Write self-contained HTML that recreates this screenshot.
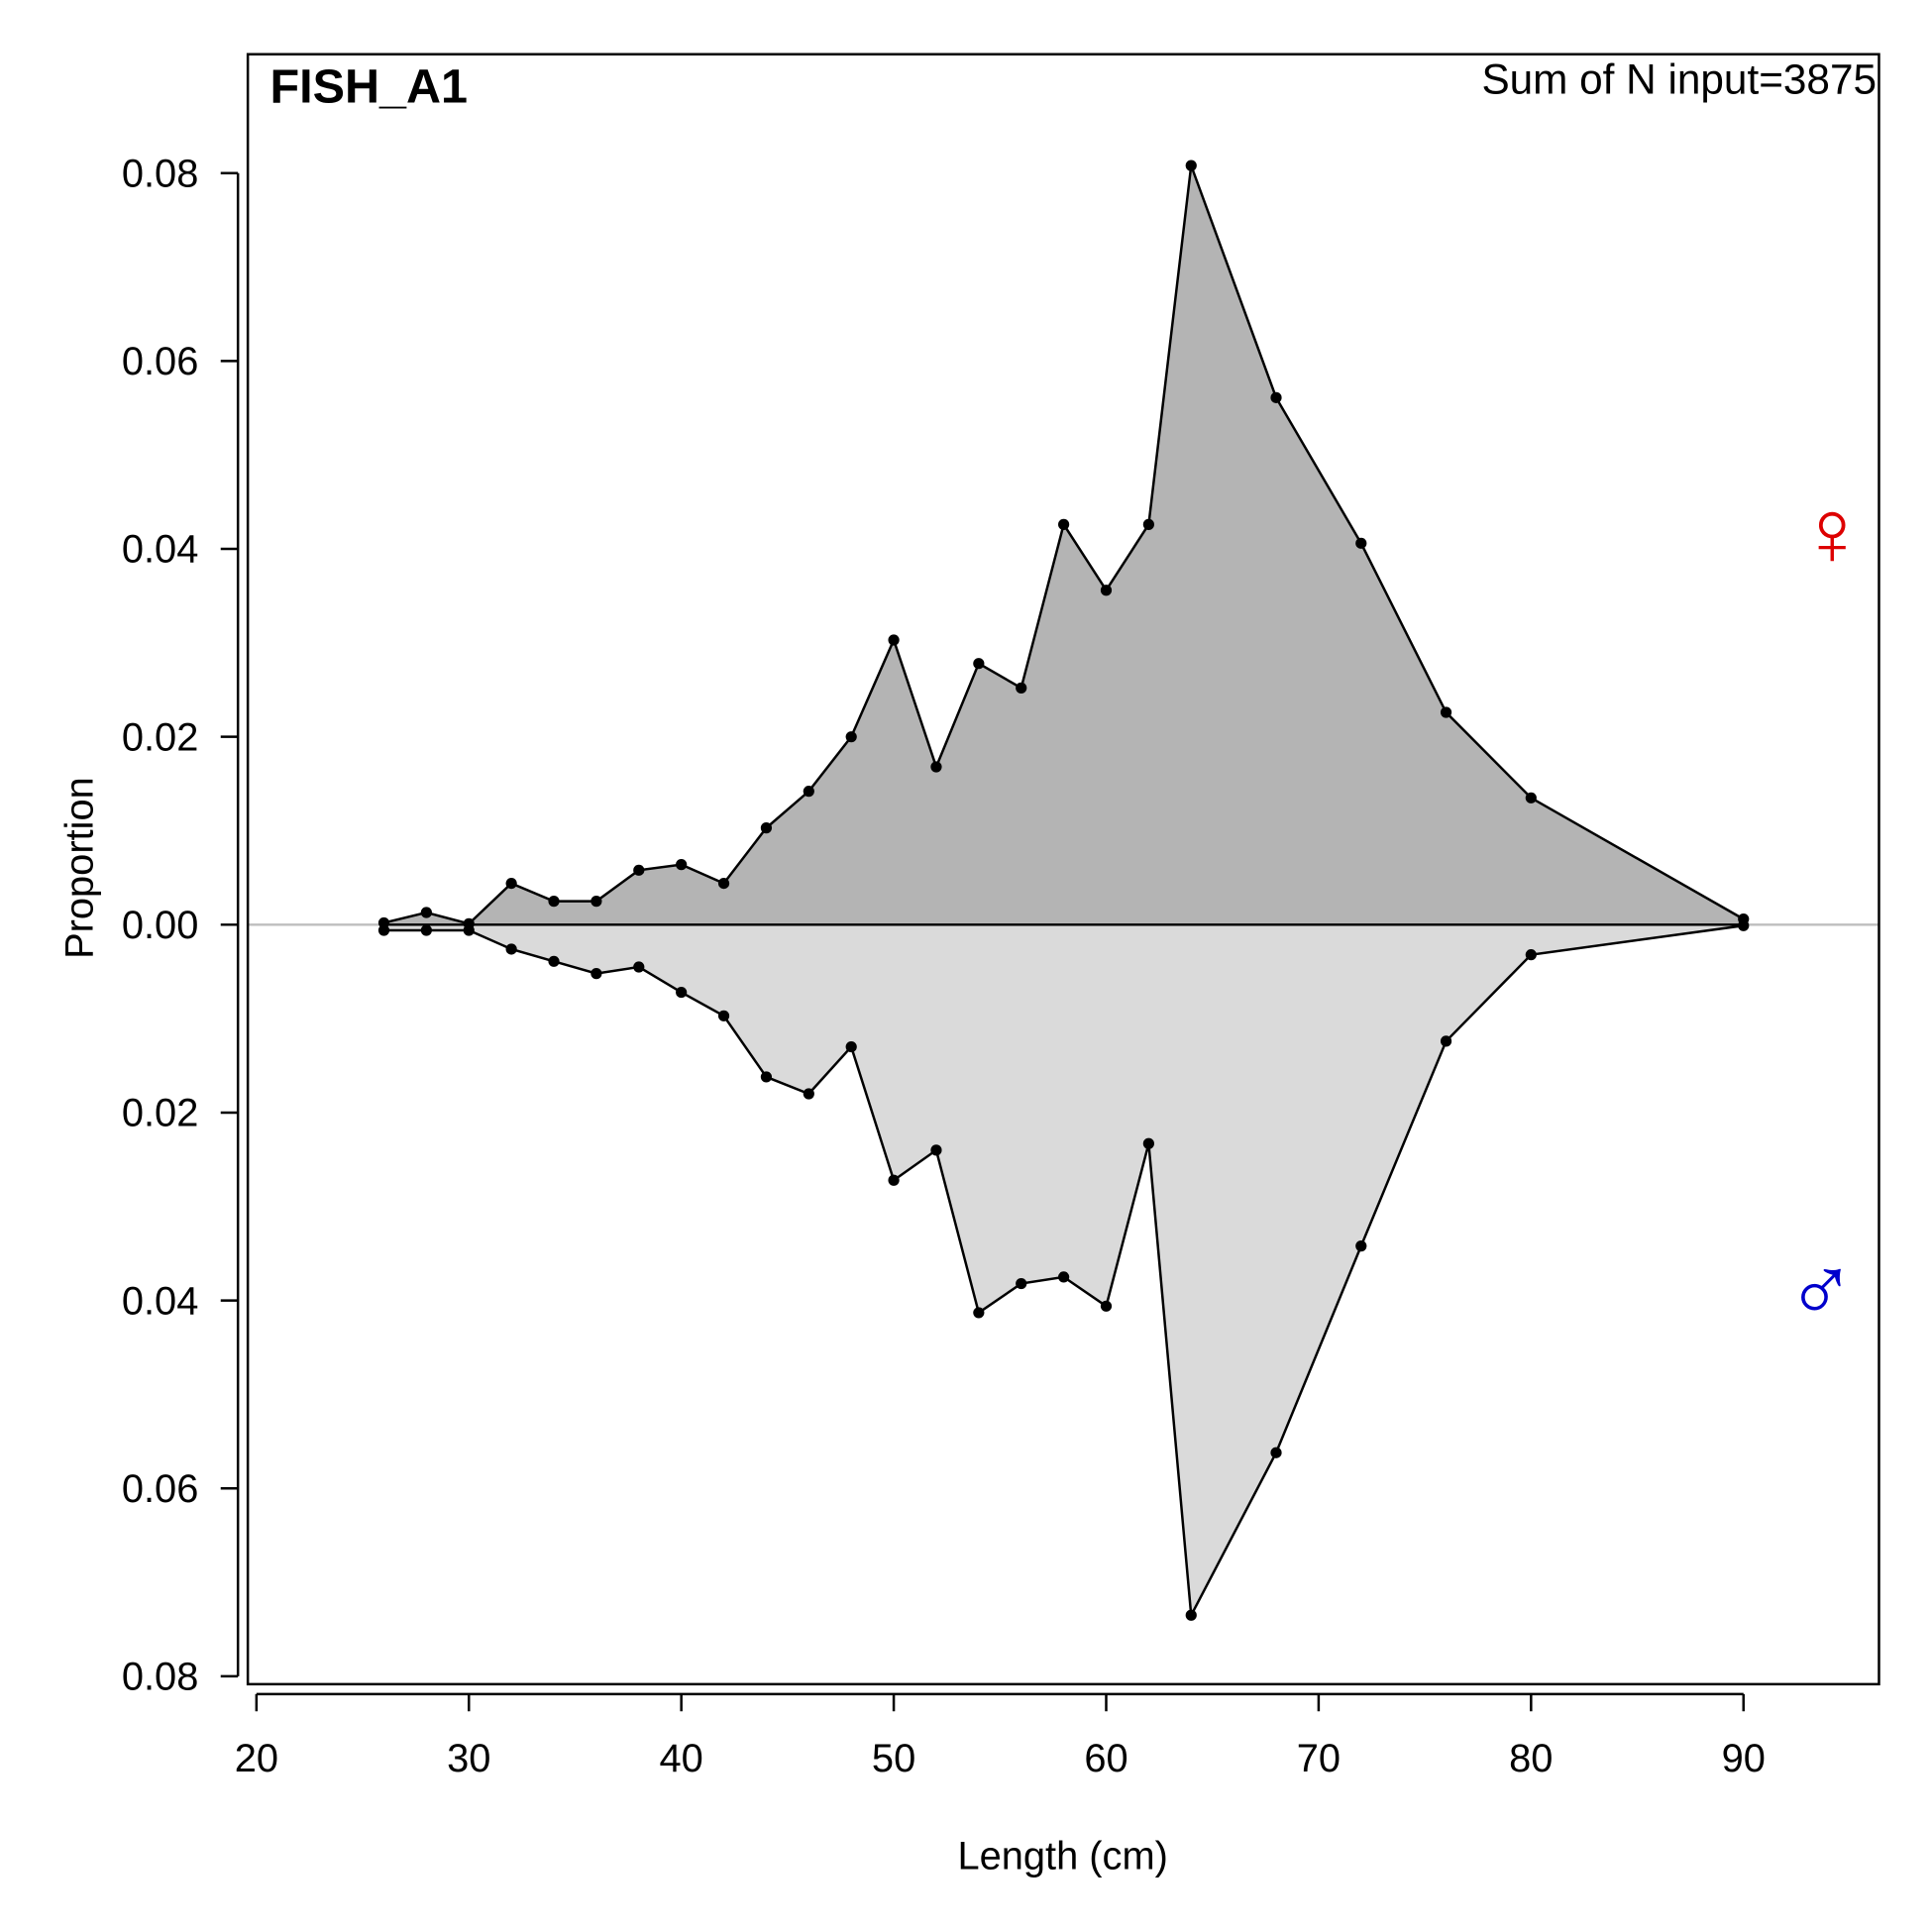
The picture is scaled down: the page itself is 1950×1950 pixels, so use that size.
<!DOCTYPE html>
<html><head><meta charset="utf-8"><style>html,body{margin:0;padding:0;background:#fff}svg{display:block}text{font-family:"Liberation Sans",sans-serif}</style></head>
<body>
<svg id="chart" width="1950" height="1950" viewBox="0 0 1567 1567" xmlns="http://www.w3.org/2000/svg">
<rect width="1567" height="1567" fill="#fff"/>
<g id="plot"></g>
</svg>
<script>
const lengths=[26,28,30,32,34,36,38,40,42,44,46,48,50,52,54,56,58,60,62,64,68,72,76,80,90];
const female=[0.0002,0.0013,0.0001,0.0044,0.0025,0.0025,0.0058,0.0064,0.0044,0.0103,0.0142,0.0200,0.0303,0.0168,0.0278,0.0252,0.0426,0.0356,0.0426,0.0808,0.0561,0.0406,0.0226,0.0135,0.0006];
const male=[0.0006,0.0006,0.0006,0.0026,0.0039,0.0052,0.0045,0.0072,0.0097,0.0162,0.0180,0.0130,0.0272,0.0240,0.0413,0.0382,0.0375,0.0406,0.0233,0.0735,0.0562,0.0342,0.0124,0.0032,0.0001];
const xTicks=[20,30,40,50,60,70,80,90];
const yTicks=[0.08,0.06,0.04,0.02,0,-0.02,-0.04,-0.06,-0.08];
const yTickLabels=["0.08","0.06","0.04","0.02","0.00","0.02","0.04","0.06","0.08"];

const NS="http://www.w3.org/2000/svg";
const g=document.getElementById('plot');
const X=v=>208+(v-20)*17.23;
const Y=v=>750-v*7620;
function mk(tag,attrs,parent){const e=document.createElementNS(NS,tag);for(const k in attrs)e.setAttribute(k,attrs[k]);(parent||g).appendChild(e);return e;}

let fp=lengths.map((l,i)=>X(l)+','+Y(female[i])).join(' ')+' '+X(90)+','+Y(0)+' '+X(26)+','+Y(0);
let fpoly=mk('polygon',{points:fp,fill:'#b4b4b4',stroke:'#000','stroke-width':2});


let mp=lengths.map((l,i)=>X(l)+','+Y(-male[i])).join(' ')+' '+X(90)+','+Y(0)+' '+X(26)+','+Y(0);
let mpoly=mk('polygon',{points:mp,fill:'#dadada',stroke:'#000','stroke-width':2});


let zl=mk('line',{x1:201,x2:1524,y1:Y(0),y2:Y(0),stroke:'#bebebe','stroke-width':2});


mk('line',{x1:X(26),x2:X(90),y1:Y(0),y2:Y(0),stroke:'#000','stroke-width':2});
lengths.forEach((l,i)=>{
 let c=mk('circle',{cx:X(l),cy:Y(female[i]),r:4.5,fill:'#000'});
 
 
 let d=mk('circle',{cx:X(l),cy:Y(-male[i]),r:4.5,fill:'#000'});
 
 
});
let fr=mk('rect',{x:201,y:44,width:1323,height:1322,fill:'none',stroke:'#000','stroke-width':2});


mk('line',{x1:X(20),x2:X(90),y1:1374,y2:1374,stroke:'#000','stroke-width':2});
xTicks.forEach(t=>{
 mk('line',{x1:X(t),x2:X(t),y1:1374,y2:1388,stroke:'#000','stroke-width':2});
 let tx=mk('text',{x:X(t),y:1437,'text-anchor':'middle','font-size':32});
 tx.textContent=t;
 
 
});
mk('line',{x1:193,x2:193,y1:Y(0.08),y2:Y(-0.08),stroke:'#000','stroke-width':2});
yTicks.forEach((t,i)=>{
 mk('line',{x1:179,x2:193,y1:Y(t),y2:Y(t),stroke:'#000','stroke-width':2});
 let tx=mk('text',{x:161,y:Y(t)+11,'text-anchor':'end','font-size':32});
 tx.textContent=yTickLabels[i];
 
 
});
let xt=mk('text',{x:862,y:1516,'text-anchor':'middle','font-size':32});
xt.textContent='Length (cm)';


let yt=mk('text',{x:0,y:0,'text-anchor':'middle','font-size':32,transform:'translate(75,704) rotate(-90)'});
yt.textContent='Proportion';


let tt=mk('text',{x:219,y:83,'font-size':39,'font-weight':'bold'});
tt.textContent='FISH_A1';


let sn=mk('text',{x:1522,y:76,'text-anchor':'end','font-size':34});
sn.textContent='Sum of N input=3875';


let fs=mk('text',{x:1486,y:458,'text-anchor':'middle','font-size':76,fill:'#dd0000'});
fs.textContent='♀';


let ms=mk('text',{x:1477,y:1072,'text-anchor':'middle','font-size':76,fill:'#0000cc'});
ms.textContent='♂';


</script>
</body></html>
